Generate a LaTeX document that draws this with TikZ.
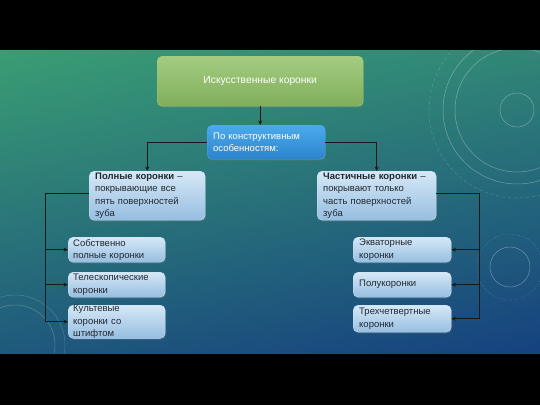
\documentclass[tikz,border=0pt]{standalone}
\usepackage{fontspec}
\setmainfont{Liberation Sans}
\usetikzlibrary{arrows.meta,shadows}
\definecolor{bgtop}{RGB}{58,158,116}
\definecolor{bgbot}{RGB}{22,66,128}
\definecolor{lbtop}{RGB}{214,232,246}
\definecolor{lbbot}{RGB}{150,190,225}
\definecolor{lbdraw}{RGB}{200,225,245}
\definecolor{bbtop}{RGB}{76,170,236}
\definecolor{bbbot}{RGB}{44,132,204}
\definecolor{gbtop}{RGB}{164,204,128}
\definecolor{gbbot}{RGB}{128,174,92}
\definecolor{txt}{RGB}{34,40,48}
\begin{document}
\begin{tikzpicture}[x=1pt,y=-1pt,
  base/.style={rounded corners=5pt, anchor=north west, inner sep=0pt,
    font=\fontsize{9.5}{12.3}\selectfont, drop shadow={opacity=0.25,shadow xshift=1pt,shadow yshift=-1.5pt}},
  lbox/.style={base, top color=lbtop, bottom color=lbbot, draw=lbdraw, line width=0.4pt,
    text=txt, align=left},
  bbox/.style={base, top color=bbtop, bottom color=bbbot, draw=bbtop, text=white, align=left},
  gbox/.style={base, top color=gbtop, bottom color=gbbot, draw=gbtop, text=white, align=center,
    font=\fontsize{10.3}{12.4}\selectfont},
  conn/.style={draw=black!90, line width=0.9pt},
  arr/.style={conn, -{Stealth[length=4.5pt,width=4pt]}},
  deco/.style={draw=white, opacity=0.35, line width=0.5pt}
]
\useasboundingbox (0,0) rectangle (540,405);
\fill[black] (0,0) rectangle (540,405);
\shade[top color=bgtop, bottom color=bgbot] (0,50) rectangle (540,353);
\shade[left color=bgtop, right color=bgbot, opacity=0.25] (0,50) rectangle (540,353);
% decorations
\begin{scope}
\clip (0,50) rectangle (540,353);
\draw[deco] (517,110) circle (74);
\draw[deco] (517,110) circle (62);
\draw[deco] (517,110) circle (17);
\draw[deco, dashed, opacity=0.2] (517,110) circle (88);
\draw[deco] (510,267) circle (20);
\draw[deco, dotted] (510,267) circle (33);
\draw[deco, opacity=0.25] (15,345) circle (40);
\draw[deco, opacity=0.2] (15,345) circle (50);
\end{scope}
% nodes
\node[gbox, minimum width=206, minimum height=50] (top) at (157,56) {Искусственные коронки};
\node[bbox, minimum width=118, minimum height=34, text width=106] (kon) at (207,125)
  {По конструктивным\\особенностям:};
\node[lbox, minimum width=116, minimum height=49, text width=104] (pol) at (89,171)
  {\textbf{Полные коронки} –\\покрывающие все\\пять поверхностей\\зуба};
\node[lbox, minimum width=119, minimum height=49, text width=107] (cha) at (317,171)
  {\textbf{Частичные коронки} –\\покрывают только\\часть поверхностей\\зуба};
\node[lbox, minimum width=97, minimum height=25, text width=87] (l1) at (68,237)
  {Собственно\\полные коронки};
\node[lbox, minimum width=97, minimum height=25, text width=87] (l2) at (68,272)
  {Телескопические\\коронки};
\node[lbox, minimum width=97, minimum height=27, text width=87] (l3) at (68,305)
  {Культевые\\коронки со\\штифтом};
\node[lbox, minimum width=98, minimum height=25, text width=86] (r1) at (353,237)
  {Экваторные\\коронки};
\node[lbox, minimum width=98, minimum height=25, text width=86] (r2) at (353,272)
  {Полукоронки};
\node[lbox, minimum width=98, minimum height=27, text width=86] (r3) at (353,305)
  {Трехчетвертные\\коронки};
% connectors
\draw[arr] (top.south) -- (kon.north -| top.south);
\draw[arr] (kon.west) -| (pol.north);
\draw[arr] (kon.east) -| (cha.north);
\coordinate (lb) at (45,193);
\coordinate (rb) at (479,193);
\draw[conn] (pol.west |- lb) -- (lb) -- (lb |- l3.west);
\draw[arr] (lb |- l1.west) -- (l1.west);
\draw[arr] (lb |- l2.west) -- (l2.west);
\draw[arr] (lb |- l3.west) -- (l3.west);
\draw[conn] (cha.east |- rb) -- (rb) -- (rb |- r3.east);
\draw[arr] (rb |- r1.east) -- (r1.east);
\draw[arr] (rb |- r2.east) -- (r2.east);
\draw[arr] (rb |- r3.east) -- (r3.east);
\end{tikzpicture}
\end{document}
